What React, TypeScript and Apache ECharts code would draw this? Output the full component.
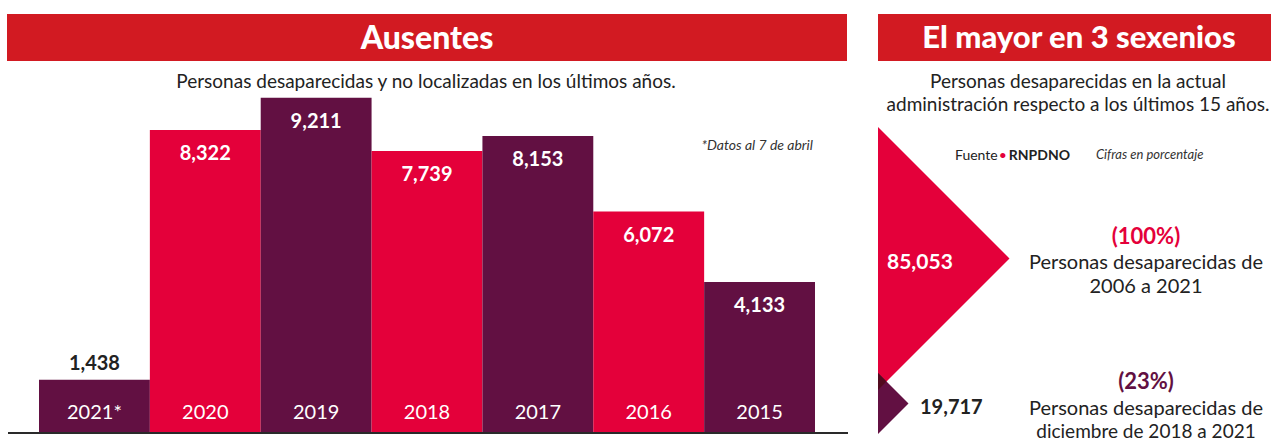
import React, { useEffect, useRef } from "react";
import * as echarts from "echarts";

const years = ["2021*", "2020", "2019", "2018", "2017", "2016", "2015"];
const values = [1438, 8322, 9211, 7739, 8153, 6072, 4133];
const barColorKeys = ["purple", "red", "purple", "red", "purple", "red", "purple"];

const totals = [85053, 19717];
const totalDescriptions = [
  ["Personas desaparecidas de", "2006 a 2021"],
  ["Personas desaparecidas de", "diciembre de 2018 a 2021"],
];

const RED = "#E4003A";
const PURPLE = "#621042";
const TITLE_RED = "#D21A22";
const DARK = "#222222";
const FONT = "Lato, 'Open Sans', sans-serif";

const fmt = (v: number) => v.toLocaleString("en-US");

export default function App() {
  const ref = useRef<HTMLDivElement>(null);
  useEffect(() => {
    if (!ref.current) return;
    const chart = echarts.init(ref.current, null, { renderer: "svg" });

    const barData = values.map((v, i) => {
      const color = barColorKeys[i] === "red" ? RED : PURPLE;
      const item: any = { value: v, itemStyle: { color } };
      if (i === 0) {
        item.label = { position: "top", color: DARK, distance: 8 };
      }
      return item;
    });

    const pctLabels = totals.map((t) => `(${Math.round((t / totals[0]) * 100)}%)`);

    const option: any = {
      animation: false,
      backgroundColor: "#ffffff",
      textStyle: { fontFamily: FONT },
      grid: [
        { left: 39, top: 69, width: 776, height: 363, containLabel: false },
        { left: 878, top: 127, width: 393, height: 307, containLabel: false },
      ],
      xAxis: [
        {
          type: "category",
          gridIndex: 0,
          data: years,
          z: 20,
          axisLine: { show: false },
          axisTick: { show: false },
          axisLabel: {
            inside: true,
            margin: 11,
            color: "#ffffff",
            fontSize: 20,
            fontFamily: FONT,
          },
        },
        { type: "value", gridIndex: 1, min: 0, max: 1, show: false },
      ],
      yAxis: [
        { type: "value", gridIndex: 0, min: 0, max: 10000, show: false },
        { type: "value", gridIndex: 1, min: 0, max: 99300, show: false },
      ],
      series: [
        {
          type: "bar",
          xAxisIndex: 0,
          yAxisIndex: 0,
          barCategoryGap: 0,
          data: barData,
          label: {
            show: true,
            position: "insideTop",
            distance: 12,
            color: "#ffffff",
            fontSize: 20,
            fontWeight: "bold",
            fontFamily: FONT,
            formatter: (p: any) => fmt(p.value),
          },
        },
        {
          type: "custom",
          xAxisIndex: 1,
          yAxisIndex: 1,
          data: totals.map((t, i) => [i, t]),
          renderItem: (params: any, api: any) => {
            const cs = params.coordSys;
            const idx = params.dataIndex;
            const v = api.value(1);
            const h = api.size([0, v])[1];
            const hr = api.size([0, totals[0]])[1];
            const L = cs.x;
            const top = idx === 0 ? cs.y : cs.y + cs.height - h;
            const mid = top + h / 2;
            const children: any[] = [
              {
                type: "polygon",
                shape: { points: [[L, top], [L + h / 2, mid], [L, top + h]] },
                style: { fill: idx === 0 ? RED : PURPLE },
              },
            ];
            if (idx === 1) {
              const rBottom = cs.y + hr;
              if (rBottom > top) {
                const d = (rBottom - top) / 2;
                children.push({
                  type: "polygon",
                  shape: { points: [[L, top], [L + d, (rBottom + top) / 2], [L, rBottom]] },
                  style: { fill: "#520A1E" },
                });
              }
            }
            children.push({
              type: "text",
              style: {
                text: fmt(v),
                x: idx === 0 ? L + 9 : L + 42,
                y: mid + 2,
                align: "left",
                verticalAlign: "middle",
                fill: idx === 0 ? "#ffffff" : DARK,
                fontSize: idx === 0 ? 21 : 20,
                fontWeight: "bold",
                fontFamily: FONT,
              },
            });
            const cx = L + 268;
            children.push({
              type: "text",
              style: {
                text: pctLabels[idx],
                x: cx,
                y: mid - 23,
                align: "center",
                verticalAlign: "middle",
                fill: idx === 0 ? RED : PURPLE,
                fontSize: 22,
                fontWeight: "bold",
                fontFamily: FONT,
              },
            });
            totalDescriptions[idx].forEach((line, j) => {
              children.push({
                type: "text",
                style: {
                  text: line,
                  x: cx,
                  y: mid + 3 + j * 24,
                  align: "center",
                  verticalAlign: "middle",
                  fill: DARK,
                  fontSize: j === 1 && idx === 1 ? 19 : 20,
                  fontFamily: FONT,
                },
              });
            });
            return { type: "group", children };
          },
        },
      ],
      graphic: [
        { type: "rect", shape: { x: 7, y: 14, width: 840, height: 47 }, style: { fill: TITLE_RED } },
        {
          type: "text",
          style: {
            text: "Ausentes",
            x: 427,
            y: 36,
            align: "center",
            verticalAlign: "middle",
            fill: "#ffffff",
            fontSize: 32,
            fontWeight: 900,
            fontFamily: FONT,
          },
        },
        {
          type: "text",
          style: {
            text: "Personas desaparecidas y no localizadas en los últimos años.",
            x: 426,
            y: 80,
            align: "center",
            verticalAlign: "middle",
            fill: DARK,
            fontSize: 19,
            fontFamily: FONT,
          },
        },
        {
          type: "text",
          style: {
            text: "*Datos al 7 de abril",
            x: 813,
            y: 144,
            align: "right",
            verticalAlign: "middle",
            fill: "#333333",
            fontSize: 14,
            fontStyle: "italic",
            fontFamily: FONT,
          },
        },
        {
          type: "line",
          shape: { x1: 8, y1: 433, x2: 848, y2: 433 },
          style: { stroke: "#2a2a2a", lineWidth: 2 },
          z: 10,
        },
        { type: "rect", shape: { x: 878, y: 14, width: 393, height: 47 }, style: { fill: TITLE_RED } },
        {
          type: "text",
          style: {
            text: "El mayor en 3 sexenios",
            x: 1079,
            y: 36,
            align: "center",
            verticalAlign: "middle",
            fill: "#ffffff",
            fontSize: 31,
            fontWeight: 900,
            fontFamily: FONT,
          },
        },
        {
          type: "text",
          style: {
            text: "Personas desaparecidas en la actual",
            x: 1078,
            y: 80,
            align: "center",
            verticalAlign: "middle",
            fill: DARK,
            fontSize: 19,
            fontFamily: FONT,
          },
        },
        {
          type: "text",
          style: {
            text: "administración respecto a los últimos 15 años.",
            x: 1078,
            y: 103,
            align: "center",
            verticalAlign: "middle",
            fill: DARK,
            fontSize: 19,
            fontFamily: FONT,
          },
        },
        {
          type: "text",
          style: {
            text: "{a|Fuente}{b|•}{c|RNPDNO}",
            x: 955,
            y: 154,
            align: "left",
            verticalAlign: "middle",
            rich: {
              a: { fontSize: 14, fill: DARK, fontFamily: FONT },
              b: { fontSize: 14, fill: RED, fontFamily: FONT, padding: [0, 2, 0, 1] },
              c: { fontSize: 14, fontWeight: "bold", fill: DARK, fontFamily: FONT },
            },
          },
        },
        {
          type: "text",
          style: {
            text: "Cifras en porcentaje",
            x: 1096,
            y: 154,
            align: "left",
            verticalAlign: "middle",
            fill: "#333333",
            fontSize: 13,
            fontStyle: "italic",
            fontFamily: FONT,
          },
        },
      ],
    };
    chart.setOption(option);
    return () => chart.dispose();
  }, []);
  return (
    <div
      ref={ref}
      style={{ position: "fixed", left: 0, top: 0, width: 1271, height: 441 }}
    />
  );
}
